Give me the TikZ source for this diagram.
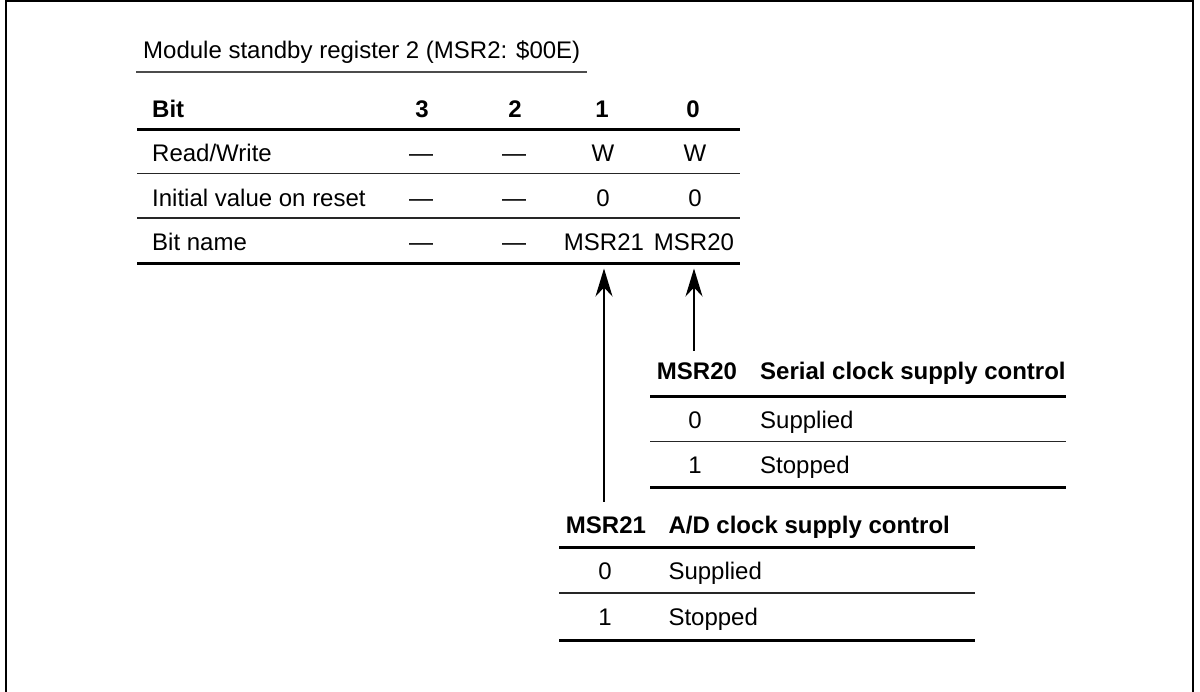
\documentclass[tikz,border=0pt]{standalone}
\usepackage{fontspec}
\setmainfont{Liberation Sans}
\usetikzlibrary{arrows.meta}

\begin{document}
\begin{tikzpicture}[x=1pt,y=-1pt,>={Stealth[length=28pt,width=17pt,inset=9pt]},
  c/.style={anchor=base,inner sep=0pt,text height=17pt,text depth=0pt,font=\fontsize{24}{28}\selectfont},
  l/.style={c,anchor=base west},
  hb/.style={c,font=\fontsize{24}{28}\selectfont\bfseries},
  hl/.style={hb,anchor=base west},
  thk/.style={line width=2.6pt},
  thn/.style={line width=1.6pt,black!85},
  ar/.style={->,line width=1.3pt}]
\useasboundingbox (0,0) rectangle (1200,692);
% frame
\draw[line width=2pt] (6,692) -- (6,1) -- (1193,1) -- (1193,692);
% register table
\node[l] (ttl) at (143,58.3) {Module standby register 2 (MSR2: \$00E)};
\draw[line width=2pt,black!70] (136,72) -- (587,72);
\node[hl] (bit) at (152,118) {Bit};
\node[hb] (b3) at (422,118) {3};
\node[hb] (b2) at (515,118) {2};
\node[hb] (b1) at (602,118) {1};
\node[hb] (b0) at (693,118) {0};
\draw[thk] (137,129.6) -- (740,129.6);
\node[l] (rw) at (152,162) {Read/Write};
\node[c] (rw3) at (421,162) {—};
\node[c] (rw2) at (514,162) {—};
\node[c] (rw1) at (603,162) {W};
\node[c] (rw0) at (695,162) {W};
\draw[thn] (137,173.6) -- (740,173.6);
\node[l] (ini) at (152,206.8) {Initial value on reset};
\node[c] (ini3) at (421,206.8) {—};
\node[c] (ini2) at (514,206.8) {—};
\node[c] (ini1) at (603,206.8) {0};
\node[c] (ini0) at (695,206.8) {0};
\draw[thn] (137,218.3) -- (740,218.3);
\node[l] (nm) at (152,250.5) {Bit name};
\node[c] (nm3) at (421,250.5) {—};
\node[c] (nm2) at (514,250.5) {—};
\node[c] (n21) at (604,250.5) {MSR21};
\node[c] (n20) at (694,250.5) {MSR20};
\draw[thk] (137,263.4) -- (740,263.4);
% MSR20
\node[hb] (h20) at (697,379.3) {MSR20};
\node[hl] (t20) at (760,379.3) {Serial clock supply control};
\draw[thk] (650,396.7) -- (1066,396.7);
\node[c] (v200) at (695,429) {0};
\node[l] (s200) at (760,429) {Supplied};
\draw[thn] (650,441.7) -- (1066,441.7);
\node[c] (v201) at (695,474) {1};
\node[l] (s201) at (760,474) {Stopped};
\draw[thk] (650,487.7) -- (1066,487.7);
% MSR21
\node[hb] (h21) at (606,533.3) {MSR21};
\node[hl] (t21) at (668.3,533.3) {A/D clock supply control};
\draw[thk] (559,547.7) -- (975,547.7);
\node[c] (v210) at (605,579.3) {0};
\node[l] (s210) at (668.3,579.3) {Supplied};
\draw[thn] (559,592.7) -- (975,592.7);
\node[c] (v211) at (605,625) {1};
\node[l] (s211) at (668.3,625) {Stopped};
\draw[thk] (559,640.7) -- (975,640.7);
% arrows
\draw[ar,shorten <=11.3pt,shorten >=17.8pt] (n20.south |- h20.north) -- (n20.south);
\draw[ar,shorten <=14.6pt,shorten >=17.8pt] (n21.south |- h21.north) -- (n21.south);
\end{tikzpicture}
\end{document}
